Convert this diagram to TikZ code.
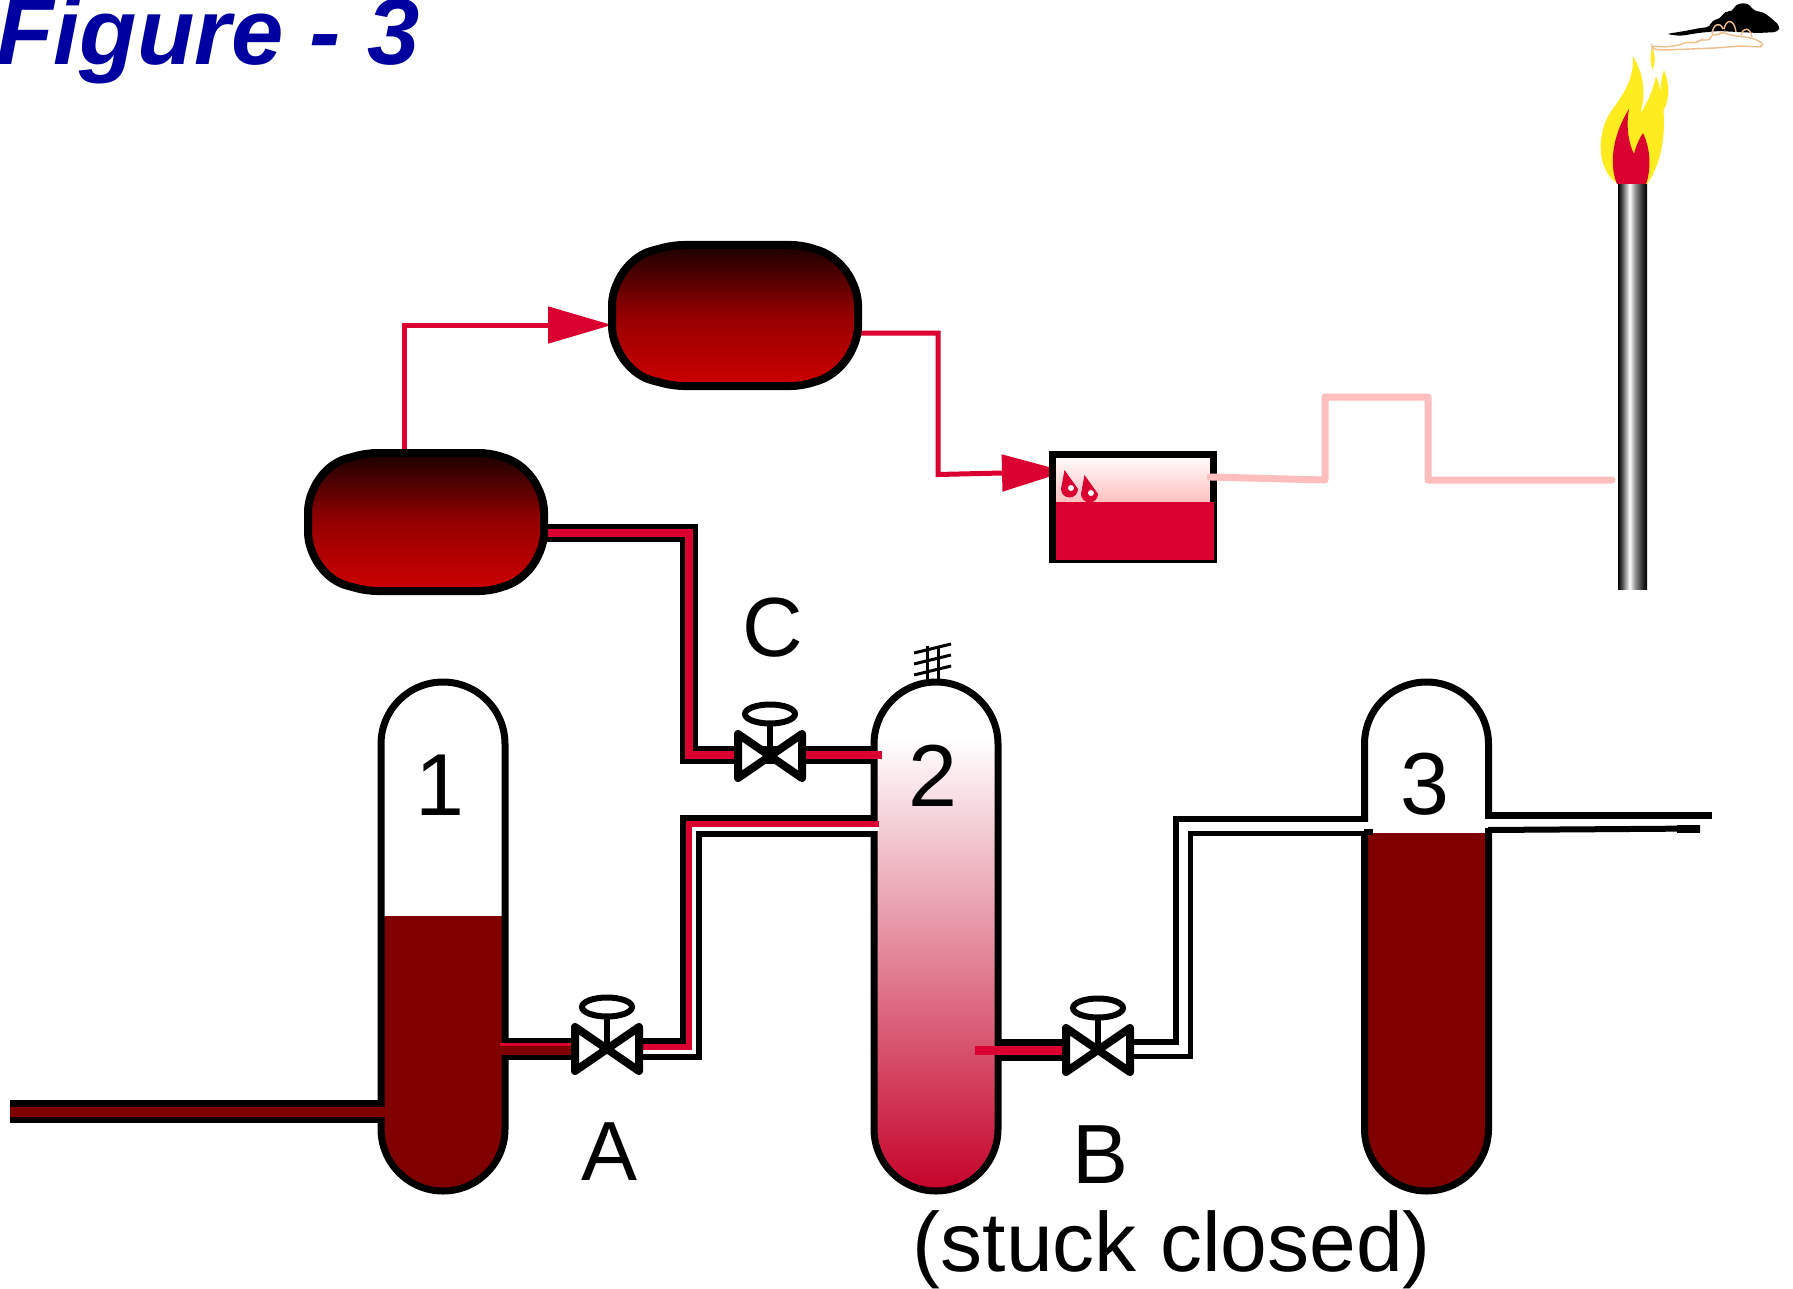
\documentclass[tikz,border=0pt]{standalone}
\usepackage{fontspec}
\setmainfont{Liberation Sans}
\usetikzlibrary{arrows.meta,calc}

\definecolor{crim}{RGB}{218,0,48}
\definecolor{liq}{RGB}{128,0,0}
\definecolor{pinkline}{RGB}{255,190,190}
\definecolor{titleblue}{RGB}{0,0,160}
\definecolor{drumtop}{RGB}{25,0,0}
\definecolor{drummid}{RGB}{150,0,0}
\definecolor{drumbot}{RGB}{205,0,0}
\definecolor{vesselbot}{RGB}{196,0,40}
\definecolor{flameyel}{RGB}{255,236,32}
\definecolor{smoketan}{RGB}{240,190,140}

% metallic look of the flare stack
\pgfdeclarehorizontalshading{stackshade}{100bp}{color(0bp)=(black); color(25bp)=(black); color(32bp)=(black!70); color(45bp)=(white); color(55bp)=(black!45); color(68bp)=(black!85); color(75bp)=(black); color(100bp)=(black)}

% horizontal drum: name, left, top, width, height (centre line of the shell)
\newcommand{\drumshape}[5]{%
  \path[drumbody] ({#2+0.25*#4},{#3}) -- ({#2+0.77*#4},{#3}) -- ({#2+0.88*#4},{#3+0.06*#5})
   -- ({#2+0.955*#4},{#3+0.18*#5}) -- ({#2+#4},{#3+0.35*#5}) -- ({#2+#4},{#3+0.65*#5})
   -- ({#2+0.955*#4},{#3+0.82*#5}) -- ({#2+0.88*#4},{#3+0.94*#5}) -- ({#2+0.77*#4},{#3+#5})
   -- ({#2+0.25*#4},{#3+#5}) -- ({#2+0.12*#4},{#3+0.94*#5}) -- ({#2+0.045*#4},{#3+0.82*#5})
   -- ({#2},{#3+0.65*#5}) -- ({#2},{#3+0.35*#5}) -- ({#2+0.045*#4},{#3+0.18*#5})
   -- ({#2+0.12*#4},{#3+0.06*#5}) -- cycle;
  \coordinate (#1) at ({#2+0.5*#4},{#3+0.5*#5});}

% vertical vessel with two domed ends, centred at x = #1
\newcommand{\vesselclip}[1]{\clip ({#1-62},744) arc[start angle=180, end angle=360, radius=62] -- ({#1+62},1129) arc[start angle=0, end angle=180, radius=62] -- cycle;}
\newcommand{\vesselwall}[1]{\draw[wall] ({#1-62},744) arc[start angle=180, end angle=360, radius=62] -- ({#1+62},1129) arc[start angle=0, end angle=180, radius=62] -- cycle;}

% gate valve with hand wheel: name, x, y
\newcommand{\pvalve}[3]{%
  \draw[wheelline] ({#2},{#3}) -- ({#2},{#3-33});
  \draw[wheelline, fill=white] ({#2},{#3-42}) ellipse[x radius=25, y radius=9.5];
  \draw[bowline, fill=white] ({#2-32},{#3-22}) -- ({#2-32},{#3+22}) -- ({#2},{#3}) -- cycle;
  \draw[bowline, fill=white] ({#2+32},{#3-22}) -- ({#2+32},{#3+22}) -- ({#2},{#3}) -- cycle;
  \coordinate (#1) at ({#2},{#3});}

\begin{document}
\begin{tikzpicture}[x=0.5pt, y=-0.5pt,
  wall/.style={draw=black, line width=3.5pt},
  drumbody/.style={draw=black, line width=4pt, line join=round, rounded corners=5pt,
                   top color=drumtop, bottom color=drumbot, middle color=drummid},
  wheelline/.style={draw=black, line width=3pt},
  bowline/.style={draw=black, line width=4pt, line join=round, line cap=round},
  flow/.style={draw=crim, line width=2.5pt, -{Triangle[length=32pt, width=18pt]}},
  lbl/.style={anchor=base, inner sep=0pt, font=\fontsize{44pt}{48pt}\selectfont},
  lblsmall/.style={anchor=base, inner sep=0pt, font=\fontsize{42pt}{46pt}\selectfont}]

\useasboundingbox (0,0) rectangle (1793,1289);
\fill[white] (0,0) rectangle (1793,1289);

% ---- title
\node[anchor=base west, inner sep=0pt, text=titleblue,
      font=\fontsize{47pt}{52pt}\selectfont\bfseries\itshape] (title) at (-4,65) {Figure - 3};

% ---- vessel contents
\begin{scope}\vesselclip{443}\fill[liq] (370,916) rectangle (520,1200);\end{scope}
\begin{scope}\vesselclip{936}\shade[top color=white, bottom color=vesselbot] (860,738) rectangle (1010,1195);\end{scope}
\begin{scope}\vesselclip{1426.5}\fill[liq] (1350,833) rectangle (1500,1200);\end{scope}

% ---- vessel shells
\vesselwall{443}
\vesselwall{936}
\vesselwall{1426.5}
\coordinate (v1) at (443,936);
\coordinate (v2) at (936,936);
\coordinate (v3) at (1426.5,936);

% ---- feed line into vessel 1
\draw[black, line width=11.5pt] (10,1111.5) -- (381,1111.5);
\draw[liq, line width=5pt] (10,1111.5) -- (392,1111.5);

% ---- vessel 1 to valve A
\draw[black, line width=11pt] (505,1049) -- (575,1049);
\draw[crim, line width=6pt] (500,1049) -- (575,1049);
\draw[liq, line width=4.5pt] (500,1050.5) -- (575,1050.5);

% ---- valve A to vessel 2
\draw[black, line width=11pt] (640,1049) -- (691,1049) -- (691,826) -- (874,826);
\draw[white, line width=5pt] (640,1049) -- (691,1049) -- (691,826) -- (879,826);
\draw[crim, line width=3pt] (640,1046.5) -- (688.5,1046.5) -- (688.5,823.5) -- (879,823.5);

% ---- drum to valve C to vessel 2
\draw[black, line width=9pt] (540,533) -- (689,533) -- (689,755) -- (874,755);
\draw[crim, line width=4pt] (540,533) -- (689,533) -- (689,755) -- (882,755);

% ---- vessel 2 to valve B
\draw[black, line width=11pt] (999,1049.5) -- (1067,1049.5);
\draw[crim, line width=4.5pt] (975,1050) -- (1067,1050);

% ---- valve B to vessel 3
\draw[black, line width=10pt] (1130,1049) -- (1183,1049) -- (1183,826) -- (1364.5,826);
\draw[white, line width=4.5pt] (1130,1049) -- (1183,1049) -- (1183,826) -- (1371,826);
\draw[black, line width=3pt] (1364,832) -- (1373,832);

% ---- vessel 3 outlet
\draw[white, line width=4.5pt] (1484,823) -- (1494,823);
\draw[black, line width=3.5pt] (1488,815) -- (1712,815);
\draw[black, line width=3pt] (1488,830) -- (1700,828.5);
\fill[black] (1677,825) rectangle (1700,833);

% ---- valves
\pvalve{valveA}{607}{1049}
\pvalve{valveB}{1098}{1050}
\pvalve{valveC}{770}{756}

% ---- relief symbol on top of vessel 2
\draw[black, line width=1.5pt] (927,646) -- (927,684) (938,646) -- (938,684);
\draw[black, line width=1.5pt] (914,653) -- (951,644) (914,664) -- (951,655) (914,675) -- (951,666);

% ---- flow arrows between the drums and the knock-out drum
\draw[flow] (404,452) -- (404,325) -- (612,325);
\draw[flow] (858,333) -- (938,333) -- (938,474.5) -- (1066,471.5);

% ---- drums
\drumshape{drumlow}{308}{453}{236}{138}
\drumshape{drumhigh}{612}{245}{246}{141}

% ---- knock-out drum
\shade[top color=white, bottom color=pinkline] (1053,454) rectangle (1213,503);
\draw[black, line width=3.5pt] (1052.5,454) rectangle (1213,559.5);
\fill[crim] (1056,502) rectangle (1214,560);
\coordinate (kod) at (1133,507);
\foreach \dx/\dy in {1069.5/489, 1089.5/494}{
  \fill[crim] (\dx-5,\dy-19) -- (\dx+8.5,\dy) arc[start angle=0, end angle=180, radius=8.5] -- cycle;
  \fill[white] (\dx+1.5,\dy-1) circle[radius=3];
}

% ---- flare stack and line to it
\shade[shading=stackshade] (1618,183) rectangle (1647,589);
\coordinate (stack) at (1632,400);
\draw[pinkline, line width=3.5pt, line join=round, line cap=round]
  (1210,477) -- (1325,480) -- (1325,397) -- (1428,397) -- (1428,480) -- (1612,480);

% ---- flame
\fill[flameyel] (1618,184) .. controls (1596,170) and (1596,132) .. (1612,110)
  .. controls (1625,92) and (1634,78) .. (1633,56)
  .. controls (1646,78) and (1645,98) .. (1640,114)
  .. controls (1648,102) and (1653,90) .. (1656,76)
  .. controls (1666,100) and (1670,152) .. (1647,184) -- cycle;
\fill[flameyel] (1664,70) .. controls (1671,88) and (1669,104) .. (1661,114)
  .. controls (1661,98) and (1659,84) .. (1664,70) -- cycle;
\fill[flameyel] (1652.5,48) .. controls (1655.5,56) and (1655.5,63) .. (1652.5,70)
  .. controls (1650,62) and (1650,55) .. (1652.5,48) -- cycle;
\fill[crim] (1617,184) .. controls (1609,165) and (1612,136) .. (1629,109)
  .. controls (1626,125) and (1628,142) .. (1634,154)
  .. controls (1636,146) and (1639,139) .. (1643,133)
  .. controls (1651,150) and (1651,170) .. (1646,184) -- cycle;

% ---- smoke
\fill[black, rounded corners=2pt] (1666,34) -- (1685,31) -- (1700,28) -- (1710,27) -- (1712,20)
  -- (1720,19) -- (1725,11) -- (1732,12) -- (1736,4) -- (1748,3) -- (1754,11) -- (1763,12)
  -- (1771,18) -- (1780,26) -- (1778,32) -- (1758,33) -- (1738,32) -- (1718,31) -- (1698,33)
  -- (1680,36) -- cycle;
\draw[smoketan, line width=0.7pt, rounded corners=1.5pt] (1652,49) -- (1652,46) -- (1665,47)
  -- (1680,45) -- (1686,42) -- (1696,43) -- (1700,40) -- (1710,40) -- (1712,34) -- (1718,35)
  -- (1722,32) -- (1730,35) -- (1745,37) -- (1755,39) -- (1764,44) -- (1760,47) -- (1740,46)
  -- (1715,48) -- (1690,49) -- (1665,50) -- cycle;
\draw[smoketan, line width=0.7pt] (1712,34) .. controls (1713,24) and (1720,21) .. (1723,29)
  (1724,29) .. controls (1726,19) and (1734,18) .. (1736,32)
  (1741,35) .. controls (1743,27) and (1750,27) .. (1752,37);

% ---- labels
\node[lbl] (n1) at (440,815) {1};
\node[lbl] (n2) at (933,806) {2};
\node[lbl] (n3) at (1425,814) {3};
\node[lblsmall] (nA) at (609.5,1180) {A};
\node[lblsmall] (nB) at (1100,1183) {B};
\node[lblsmall] (nC) at (773,656) {C};
\node[lblsmall] (stuck) at (1172,1271) {(stuck closed)};

\end{tikzpicture}
\end{document}
